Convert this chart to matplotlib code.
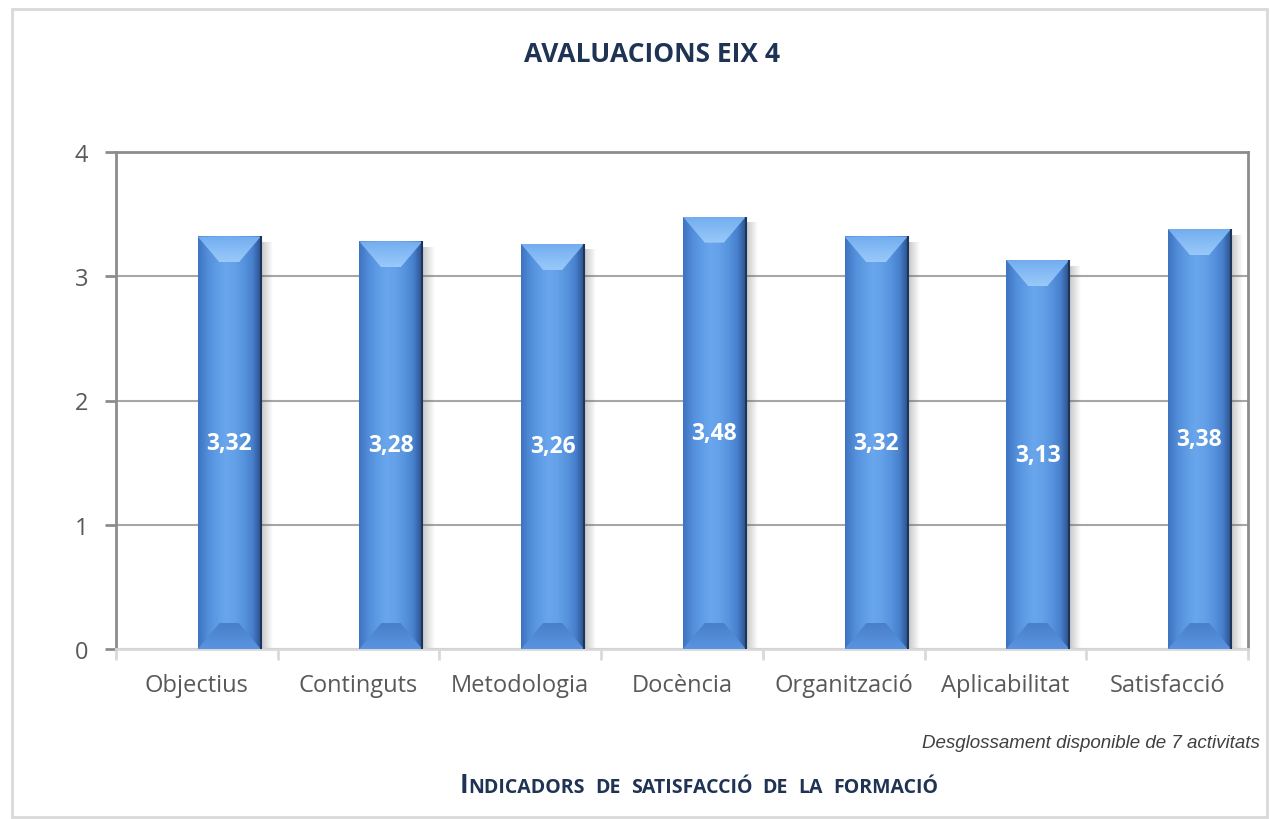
import matplotlib
matplotlib.use('Agg')
import matplotlib.pyplot as plt
import numpy as np
from matplotlib.patches import Rectangle, Polygon

categories = ['Objectius', 'Continguts', 'Metodologia', 'Docència',
              'Organització', 'Aplicabilitat', 'Satisfacció']
values = [3.32, 3.28, 3.26, 3.48, 3.32, 3.13, 3.38]
value_labels = ['3,32', '3,28', '3,26', '3,48', '3,32', '3,13', '3,38']
yticks = [0, 1, 2, 3, 4]
title = 'AVALUACIONS EIX 4'
note = 'Desglossament disponible de 7 activitats'
axis_title = 'INDICADORS DE SATISFACCIÓ DE LA FORMACIÓ'

FONT = ['Open Sans', 'DejaVu Sans']
plt.rcParams['font.family'] = FONT

W, H = 1270, 820
fig = plt.figure(figsize=(12.7, 8.2), dpi=100)
fig.patch.set_facecolor('white')

# outer chart border
fig.patches.append(Rectangle((12 / W, 1 - 818 / H), (1267 - 12) / W, (818 - 10) / H,
                             transform=fig.transFigure, fill=False,
                             edgecolor='#d9d9d9', lw=2, zorder=0))

ax = fig.add_axes([116 / W, 1 - 650 / H, (1248 - 116) / W, (650 - 153) / H])
ax.set_xlim(-0.5, 6.5)
ax.set_ylim(0, 4)

x = np.arange(len(categories))
bars = ax.bar(x + 0.2, values, width=0.39, color='none', zorder=3)

# pixel scale
p0 = ax.transData.transform((0, 0))
p1 = ax.transData.transform((1, 1))
sx, sy = p1[0] - p0[0], p1[1] - p0[1]

# horizontal gradient for bar body
hcols = np.array([
    [0.24, 0.45, 0.75],
    [0.32, 0.55, 0.85],
    [0.37, 0.61, 0.90],
    [0.41, 0.65, 0.93],
    [0.39, 0.63, 0.91],
    [0.34, 0.58, 0.87],
    [0.28, 0.50, 0.80],
    [0.16, 0.30, 0.52],
])
n = 200
t = np.linspace(0, 1, n)
idx = np.linspace(0, 1, len(hcols))
body = np.stack([np.interp(t, idx, hcols[:, c]) for c in range(3)], axis=-1)[None, :, :]

top_grad = np.stack([np.linspace(a, b, 50) for a, b in
                     zip([0.60, 0.79, 0.98], [0.45, 0.68, 0.94])], axis=-1)[:, None, :]
bot_grad = np.stack([np.linspace(a, b, 50) for a, b in
                     zip([0.35, 0.58, 0.88], [0.29, 0.50, 0.79])], axis=-1)[:, None, :]

dx = 22 / sx
dy = 26 / sy
for b, v, lab in zip(bars, values, value_labels):
    x0, w, h = b.get_x(), b.get_width(), b.get_height()
    # shadow
    shw = 12 / sx
    sh = np.zeros((1, 50, 4))
    sh[..., :3] = 0.35
    sh[..., 3] = np.linspace(0.35, 0.0, 50)
    ax.imshow(sh, extent=[x0 + w, x0 + w + shw, 0, h - 6 / sy], aspect='auto',
              zorder=2, interpolation='bilinear')
    rect = Rectangle((x0, 0), w, h, transform=ax.transData, fc='none', ec='none')
    ax.add_patch(rect)
    im = ax.imshow(body, extent=[x0, x0 + w, 0, h], aspect='auto', zorder=3,
                   interpolation='bilinear')
    im.set_clip_path(rect)
    topp = Polygon([(x0, h), (x0 + w, h), (x0 + w - dx, h - dy), (x0 + dx, h - dy)],
                   closed=True, fc='none', ec='none', transform=ax.transData)
    ax.add_patch(topp)
    it = ax.imshow(top_grad, extent=[x0, x0 + w, h - dy, h], aspect='auto', zorder=4,
                   interpolation='bilinear', origin='lower')
    it.set_clip_path(topp)
    botp = Polygon([(x0, 0), (x0 + w, 0), (x0 + w - dx, dy), (x0 + dx, dy)],
                   closed=True, fc='none', ec='none', transform=ax.transData)
    ax.add_patch(botp)
    ib = ax.imshow(bot_grad, extent=[x0, x0 + w, 0, dy], aspect='auto', zorder=4,
                   interpolation='bilinear', origin='lower')
    ib.set_clip_path(botp)
    ax.plot([x0 + w, x0 + w], [0, h], color='#1d3558', lw=1.5, zorder=5,
            solid_capstyle='butt')
    ax.text(x0 + w / 2, h / 2, lab, ha='center', va='center', color='white',
            fontsize=16.5, fontweight='bold', zorder=6)

ax.set_xlim(-0.5, 6.5)
ax.set_ylim(0, 4)

# grid and frame
ax.set_yticks(yticks)
ax.set_yticklabels([str(v) for v in yticks])
ax.yaxis.grid(True, color='#a6a6a6', lw=1.5, zorder=1)
ax.set_axisbelow(True)
for s in ['top', 'right', 'left']:
    ax.spines[s].set_color('#8c8c8c')
    ax.spines[s].set_linewidth(2)
ax.spines['bottom'].set_color('#d9d9d9')
ax.spines['bottom'].set_linewidth(2)

ax.set_xticks(np.arange(-0.5, 7, 1))
ax.set_xticklabels([])
ax.set_xticks(x, minor=True)
ax.set_xticklabels(categories, minor=True)
ax.tick_params(axis='x', which='major', length=8, width=2, color='#d9d9d9')
ax.tick_params(axis='x', which='minor', length=0, pad=17, labelsize=17,
               labelcolor='#595959')
ax.tick_params(axis='y', length=8, width=2, color='#8c8c8c', labelsize=17,
               labelcolor='#595959', pad=12)

fig.text(652 / W, 1 - 55 / H, title, ha='center', va='center', fontsize=19,
         fontweight='bold', color='#1f3354')
fig.text(1260 / W, 1 - 744 / H, note, ha='right', va='center', fontsize=13.5,
         style='italic', color='#404040',
         family=['Liberation Sans Narrow', 'Liberation Sans', 'DejaVu Sans'])

# small-caps axis title: first letter large, rest small capitals
renderer = fig.canvas.get_renderer()
pieces = [(axis_title[0], 18.5)]
for wi, word in enumerate(axis_title[1:].split(' ')):
    if wi > 0:
        pieces.append(('  ', 14))
    pieces.append((word, 14))
texts = []
ybase = 1 - 793 / H
for s, fs in pieces:
    tt = fig.text(0, ybase, s, ha='left', va='baseline', fontsize=fs,
                  fontweight='bold', color='#1f3354')
    texts.append(tt)
widths = []
for tt in texts:
    bb = tt.get_window_extent(renderer)
    widths.append(bb.width / W)
total = sum(widths)
start = 699 / W - total / 2
for tt, wdt in zip(texts, widths):
    tt.set_x(start)
    start += wdt

fig.savefig('out.png', dpi=100, facecolor='white')
